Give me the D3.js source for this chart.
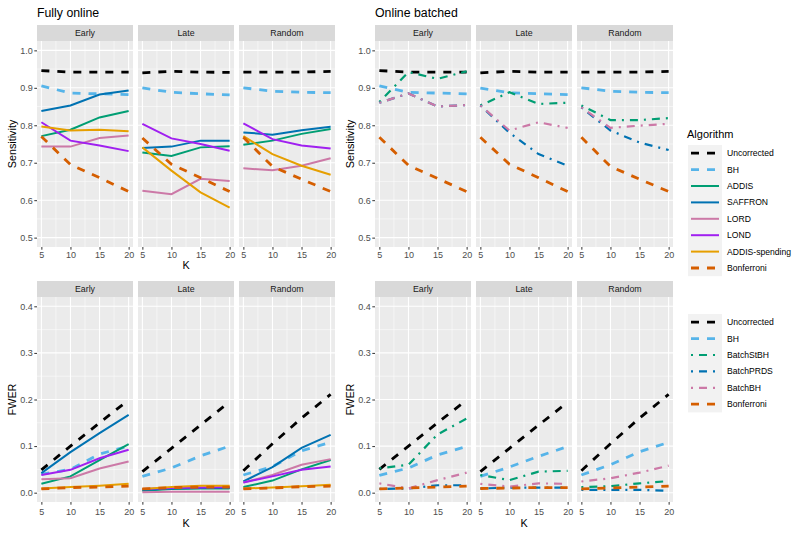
<!DOCTYPE html>
<html><head><meta charset="utf-8">
<script src="https://cdn.jsdelivr.net/npm/d3@7"></script>
<style>body{margin:0;background:#fff} text{font-family:"Liberation Sans",Arial,sans-serif}</style>
</head><body><svg id="c" width="800" height="533"></svg>
<script>
const K = [5, 10, 15, 20];
const scenarios = ["Early", "Late", "Random"];
const onlineAlgos = ["Uncorrected", "BH", "ADDIS", "SAFFRON", "LORD", "LOND", "ADDIS-spending", "Bonferroni"];
const batchAlgos = ["Uncorrected", "BH", "BatchStBH", "BatchPRDS", "BatchBH", "Bonferroni"];
const sensTicks = [0.5, 0.6, 0.7, 0.8, 0.9, 1.0];
const fwerTicks = [0.0, 0.1, 0.2, 0.3, 0.4];

// values per algorithm: [Early, Late, Random], each over K
const sensOnline = {
  "Uncorrected": [[0.946,0.942,0.942,0.942],[0.940,0.944,0.942,0.941],[0.942,0.942,0.942,0.944]],
  "BH": [[0.905,0.886,0.884,0.882],[0.900,0.888,0.884,0.881],[0.900,0.891,0.888,0.887]],
  "ADDIS": [[0.771,0.788,0.821,0.838],[0.727,0.718,0.741,0.744],[0.748,0.759,0.777,0.790]],
  "SAFFRON": [[0.838,0.853,0.882,0.893],[0.739,0.743,0.759,0.759],[0.781,0.775,0.787,0.796]],
  "LORD": [[0.743,0.743,0.766,0.773],[0.625,0.616,0.657,0.651],[0.685,0.680,0.692,0.712]],
  "LOND": [[0.808,0.759,0.746,0.731],[0.804,0.765,0.750,0.732],[0.805,0.763,0.746,0.738]],
  "ADDIS-spending": [[0.797,0.786,0.788,0.784],[0.741,0.679,0.621,0.580],[0.771,0.723,0.692,0.668]],
  "Bonferroni": [[0.770,0.695,0.660,0.623],[0.766,0.696,0.660,0.623],[0.768,0.690,0.656,0.623]]
};
const sensBatch = {
  "Uncorrected": [[0.946,0.942,0.942,0.942],[0.940,0.944,0.942,0.942],[0.942,0.942,0.942,0.944]],
  "BH": [[0.905,0.888,0.886,0.884],[0.899,0.887,0.884,0.882],[0.900,0.891,0.888,0.887]],
  "BatchStBH": [[0.862,0.942,0.924,0.944],[0.853,0.888,0.857,0.860],[0.853,0.814,0.814,0.819]],
  "BatchPRDS": [[0.860,0.885,0.850,0.854],[0.853,0.780,0.723,0.692],[0.848,0.786,0.754,0.734]],
  "BatchBH": [[0.860,0.885,0.850,0.854],[0.853,0.786,0.808,0.793],[0.848,0.793,0.799,0.804]],
  "Bonferroni": [[0.768,0.693,0.658,0.623],[0.768,0.696,0.660,0.623],[0.768,0.690,0.656,0.623]]
};
const fwerOnline = {
  "Uncorrected": [[0.049,0.100,0.150,0.199],[0.045,0.095,0.145,0.195],[0.047,0.105,0.160,0.211]],
  "BH": [[0.040,0.050,0.083,0.100],[0.035,0.053,0.079,0.100],[0.038,0.056,0.090,0.108]],
  "ADDIS": [[0.019,0.035,0.070,0.104],[0.004,0.008,0.009,0.009],[0.012,0.026,0.050,0.070]],
  "SAFFRON": [[0.042,0.087,0.128,0.167],[0.006,0.009,0.010,0.010],[0.024,0.055,0.096,0.124]],
  "LORD": [[0.029,0.031,0.052,0.067],[0.001,0.002,0.002,0.002],[0.022,0.038,0.060,0.072]],
  "LOND": [[0.038,0.049,0.074,0.092],[0.008,0.010,0.011,0.012],[0.022,0.035,0.049,0.056]],
  "ADDIS-spending": [[0.009,0.012,0.015,0.019],[0.008,0.012,0.015,0.015],[0.009,0.011,0.014,0.017]],
  "Bonferroni": [[0.008,0.011,0.012,0.014],[0.008,0.011,0.012,0.012],[0.008,0.010,0.013,0.014]]
};
const fwerBatch = {
  "Uncorrected": [[0.050,0.100,0.150,0.199],[0.045,0.095,0.145,0.194],[0.047,0.105,0.160,0.211]],
  "BH": [[0.037,0.053,0.081,0.099],[0.035,0.055,0.078,0.099],[0.038,0.060,0.088,0.108]],
  "BatchStBH": [[0.052,0.060,0.125,0.159],[0.038,0.027,0.045,0.047],[0.012,0.014,0.020,0.025]],
  "BatchPRDS": [[0.008,0.009,0.016,0.016],[0.009,0.011,0.011,0.011],[0.006,0.006,0.006,0.004]],
  "BatchBH": [[0.020,0.009,0.027,0.043],[0.019,0.013,0.020,0.019],[0.024,0.031,0.043,0.058]],
  "Bonferroni": [[0.008,0.010,0.012,0.014],[0.009,0.010,0.011,0.011],[0.008,0.010,0.012,0.014]]
};

const colorOf = {
  "Uncorrected":"#000000","BH":"#56B4E9","ADDIS":"#009E73","SAFFRON":"#0072B2","LORD":"#CC79A7",
  "LOND":"#A020F0","ADDIS-spending":"#E69F00","Bonferroni":"#D55E00",
  "BatchStBH":"#009E73","BatchPRDS":"#0072B2","BatchBH":"#CC79A7"
};
const typeOf = {
  "Uncorrected":"dashed","BH":"dashed","Bonferroni":"dashed",
  "ADDIS":"solid","SAFFRON":"solid","LORD":"solid","LOND":"solid","ADDIS-spending":"solid",
  "BatchStBH":"dotdash","BatchPRDS":"dotdash","BatchBH":"dotdash"
};
function styleLine(sel, a) {
  const t = typeOf[a];
  sel.attr("fill","none").attr("stroke", colorOf[a])
    .attr("stroke-width", t === "dashed" ? 2.8 : (t === "dotdash" ? 2.2 : 2))
    .attr("stroke-dasharray", t === "dashed" ? "8,8" : (t === "dotdash" ? "2,6,8,6" : null));
}

const svg = d3.select("#c");
const PW = 96, SH = 16;
const FONT = '"Liberation Sans",Arial,sans-serif';

function drawBlock(b) {
  const g = svg.append("g");
  const y = d3.scaleLinear().domain(b.domain).range([b.bottom, b.top]);
  const minorY = [];
  for (let i = 0; i < b.ticks.length - 1; i++) minorY.push((b.ticks[i] + b.ticks[i+1]) / 2);
  const minorX = [7.5, 12.5, 17.5];
  if (b.title) g.append("text").attr("x", b.x0[0]).attr("y", 17).attr("font-size", 12.3).attr("fill", "#000").text(b.title);
  scenarios.forEach((sc, i) => {
    const x = d3.scaleLinear().domain([4.25, 20.75]).range([b.x0[i], b.x0[i] + PW]);
    g.append("rect").attr("x", b.x0[i]).attr("y", b.top - SH).attr("width", PW).attr("height", SH).attr("fill", "#D9D9D9");
    g.append("text").attr("x", b.x0[i] + PW/2).attr("y", b.top - SH/2).attr("dy", "0.35em")
      .attr("text-anchor", "middle").attr("font-size", 8.8).attr("fill", "#1A1A1A").text(sc);
    g.append("rect").attr("x", b.x0[i]).attr("y", b.top).attr("width", PW).attr("height", b.bottom - b.top).attr("fill", "#EBEBEB");
    g.selectAll(null).data(minorY).enter().append("line")
      .attr("x1", b.x0[i]).attr("x2", b.x0[i] + PW).attr("y1", d => y(d)).attr("y2", d => y(d))
      .attr("stroke", "#fff").attr("stroke-width", 0.5);
    g.selectAll(null).data(minorX).enter().append("line")
      .attr("y1", b.top).attr("y2", b.bottom).attr("x1", d => x(d)).attr("x2", d => x(d))
      .attr("stroke", "#fff").attr("stroke-width", 0.5);
    g.selectAll(null).data(b.ticks).enter().append("line")
      .attr("x1", b.x0[i]).attr("x2", b.x0[i] + PW).attr("y1", d => y(d)).attr("y2", d => y(d))
      .attr("stroke", "#fff").attr("stroke-width", 1.1);
    g.selectAll(null).data(K).enter().append("line")
      .attr("y1", b.top).attr("y2", b.bottom).attr("x1", d => x(d)).attr("x2", d => x(d))
      .attr("stroke", "#fff").attr("stroke-width", 1.1);
    const clipId = "clip" + b.id + i;
    g.append("clipPath").attr("id", clipId).append("rect")
      .attr("x", b.x0[i]).attr("y", b.top).attr("width", PW).attr("height", b.bottom - b.top);
    const line = d3.line().x((d, j) => x(K[j])).y(d => y(d));
    const lg = g.append("g").attr("clip-path", `url(#${clipId})`);
    b.algos.forEach(a => {
      lg.append("path").datum(b.data[a][i]).attr("d", line).call(styleLine, a);
    });
    const ax = g.append("g").attr("transform", `translate(0,${b.bottom})`)
      .call(d3.axisBottom(x).tickValues(K).tickSize(2.7).tickPadding(b.tickPad).tickFormat(d3.format("d")));
    ax.select(".domain").remove();
    ax.selectAll("line").attr("stroke", "#333");
    ax.selectAll("text").attr("font-size", 9).attr("fill", "#4D4D4D").attr("font-family", FONT);
  });
  const ay = g.append("g").attr("transform", `translate(${b.x0[0]},0)`)
    .call(d3.axisLeft(y).tickValues(b.ticks).tickSize(2.7).tickPadding(1.5).tickFormat(d3.format(".1f")));
  ay.select(".domain").remove();
  ay.selectAll("line").attr("stroke", "#333");
  ay.selectAll("text").attr("font-size", 9).attr("fill", "#4D4D4D").attr("font-family", FONT);
  g.append("text").attr("transform", `translate(${b.ylabX},${(b.top + b.bottom)/2}) rotate(-90)`)
    .attr("text-anchor", "middle").attr("dy", "0.35em").attr("font-size", 10.8).attr("fill", "#000").text(b.metric);
  if (b.kY) {
    g.append("text").attr("x", b.x0[1] + PW/2).attr("y", b.kY).attr("dy", "0.35em")
      .attr("text-anchor", "middle").attr("font-size", 10.8).attr("fill", "#000").text("K");
  }
}

drawBlock({id:"a", title:"Fully online", data:sensOnline, algos:onlineAlgos, metric:"Sensitivity",
  x0:[37,138,239], top:41, bottom:247, domain:[0.475,1.025], ticks:sensTicks, ylabX:12, kY:265, tickPad:1.5});
drawBlock({id:"b", title:"Online batched", data:sensBatch, algos:batchAlgos, metric:"Sensitivity",
  x0:[375,476,577], top:41, bottom:247, domain:[0.475,1.025], ticks:sensTicks, ylabX:350, kY:null, tickPad:1.5});
drawBlock({id:"c", title:null, data:fwerOnline, algos:onlineAlgos, metric:"FWER",
  x0:[37,138,239], top:297, bottom:502, domain:[-0.02,0.42], ticks:fwerTicks, ylabX:12, kY:523, tickPad:4});
drawBlock({id:"d", title:null, data:fwerBatch, algos:batchAlgos, metric:"FWER",
  x0:[375,476,577], top:297, bottom:502, domain:[-0.02,0.42], ticks:fwerTicks, ylabX:350, kY:523, tickPad:4});

function drawLegend(algos, title, top) {
  const g = svg.append("g");
  const kh = 16.4, kx = 688, kw = 34;
  if (title) {
    g.append("text").attr("x", 687).attr("y", top - 11).attr("dy", "0.35em").attr("font-size", 11).attr("fill", "#000").text(title);
  }
  g.append("rect").attr("x", kx).attr("y", top).attr("width", kw).attr("height", kh * algos.length).attr("fill", "#F2F2F2");
  algos.forEach((a, i) => {
    const cy = top + kh * i + kh/2;
    g.append("line").attr("x1", kx + 3).attr("x2", kx + kw - 3).attr("y1", cy).attr("y2", cy).call(styleLine, a);
    g.append("text").attr("x", 727).attr("y", cy).attr("dy", "0.35em").attr("font-size", 8.6).attr("fill", "#000").text(a);
  });
}
drawLegend(onlineAlgos, "Algorithm", 145);
drawLegend(batchAlgos, null, 314);
</script></body></html>
